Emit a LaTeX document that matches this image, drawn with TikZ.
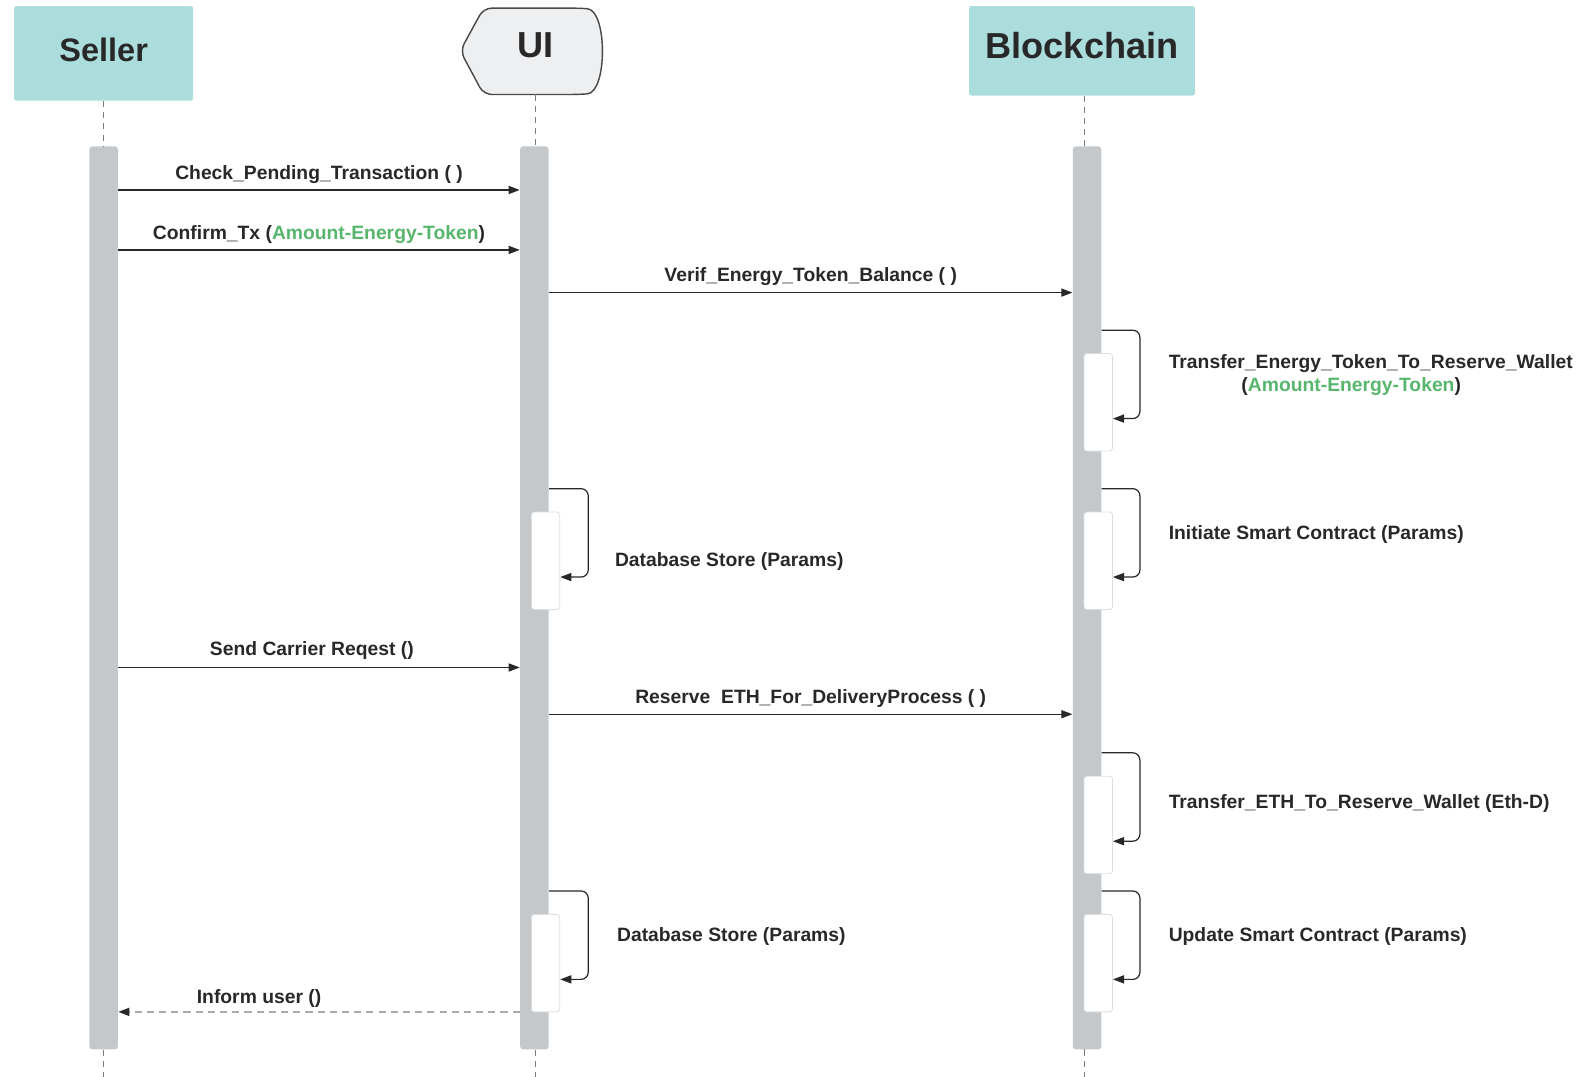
\documentclass[tikz,border=0pt]{standalone}
\usepackage{fontspec}
\setmainfont{Liberation Sans}
\usetikzlibrary{fit,arrows.meta,calc}
\definecolor{headteal}{RGB}{172,221,221}
\definecolor{barGray}{RGB}{197,200,203}
\definecolor{uiFill}{RGB}{238,239,241}
\definecolor{ink}{RGB}{40,40,40}
\definecolor{tokgreen}{RGB}{88,182,108}
\definecolor{lifegray}{RGB}{125,125,125}
\definecolor{replygray}{RGB}{170,170,170}

\begin{document}
\begin{tikzpicture}[x=0.5pt,y=-0.5pt,
  head/.style={fill=headteal, draw=none, rounded corners=1pt, inner sep=0pt},
  lifebar/.style={fill=barGray, draw=none, rounded corners=1.5pt, inner sep=0pt},
  actbox/.style={fill=white, draw=barGray!60, line width=0.4pt, rounded corners=1.5pt, inner sep=0pt},
  lifeline/.style={draw=lifegray, dash pattern=on 3pt off 2.5pt, line width=0.5pt},
  msg/.style={draw=ink, line width=0.6pt, -{Triangle[length=5.5pt,width=4pt]}},
  reply/.style={draw=replygray, dash pattern=on 3.5pt off 2.5pt, line width=0.7pt,
    -{Triangle[length=5.5pt,width=4pt,color=ink]}},
  selfmsg/.style={msg, rounded corners=3.5pt},
  lbl/.style={font=\bfseries\fontsize{9.5}{11}\selectfont, text=ink, inner sep=0pt},
  title/.style={font=\bfseries\fontsize{16}{18}\selectfont, text=ink, inner sep=0pt},
  bigtitle/.style={font=\bfseries\fontsize{17.8}{20}\selectfont, text=ink, inner sep=0pt}
]
\useasboundingbox (0,0) rectangle (1568,1060);

% participants
\node[head, fit={(14,6) (190,99)}] (sellerbox) {};
\node[title] (seller) at (102,49) {Seller};

\draw[fill=uiFill, draw=ink!85, line width=0.7pt, rounded corners=4pt]
  (476,8) -- (570,8) .. controls (598,10) and (598,91) .. (570,93) -- (476,93) -- (453,50) -- cycle;
\coordinate (uibottom) at (527,93);
\node[bigtitle] (ui) at (527,45) {UI};

\node[head, fit={(954,6) (1176,94)}] (chainbox) {};
\node[bigtitle] (chain) at (1065,45) {Blockchain};

% lifeline bars
\node[lifebar, fit={(88,144) (116,1033)}] (sbar) {};
\node[lifebar, fit={(512,144) (540,1033)}] (ubar) {};
\node[lifebar, fit={(1056,144) (1084,1033)}] (cbar) {};

% dashed lifelines
\coordinate (send) at (102,1060);
\coordinate (uend) at (527,1060);
\coordinate (ctop) at (1067,94);
\coordinate (cmid1) at (1067,144);
\coordinate (cmid2) at (1067,1033);
\coordinate (cend) at (1067,1060);
\draw[lifeline] (sellerbox.south) -- (sbar.north);
\draw[lifeline] (uibottom) -- (uibottom |- ubar.north);
\draw[lifeline] (ctop) -- (cmid1);
\draw[lifeline] (sbar.south) -- (send);
\draw[lifeline] (uend |- ubar.south) -- (uend);
\draw[lifeline] (cmid2) -- (cend);

% activation boxes
\node[actbox, fit={(1067,348) (1095,444)}] (act1) {};
\node[actbox, fit={(523,504) (551,600)}] (act2) {};
\node[actbox, fit={(1067,504) (1095,600)}] (act3) {};
\node[actbox, fit={(1067,764) (1095,860)}] (act4) {};
\node[actbox, fit={(523,900) (551,996)}] (act5) {};
\node[actbox, fit={(1067,900) (1095,996)}] (act6) {};

% messages
\draw[msg] (sbar.east |- 0,187) -- (ubar.west |- 0,187);
\node[lbl] (m1) at (314,172) {Check\_Pending\_Transaction ( )};

\draw[msg] (sbar.east |- 0,246) -- (ubar.west |- 0,246);
\node[lbl] (m2) at (314,231) {Confirm\_Tx (\textcolor{tokgreen}{Amount-Energy-Token})};

\draw[msg] (ubar.east |- 0,288) -- (cbar.west |- 0,288);
\node[lbl] (m3) at (798,272) {Verif\_Energy\_Token\_Balance ( )};

\draw[selfmsg] (cbar.east |- 0,325) -- (1122,325) -- (1122,412) -- (act1.east |- 0,412);
\node[lbl, anchor=west] (m4) at (1150,358) {Transfer\_Energy\_Token\_To\_Reserve\_Wallet};
\node[lbl] (m4b) at (1330,380) {(\textcolor{tokgreen}{Amount-Energy-Token})};

\draw[selfmsg] (ubar.east |- 0,481) -- (579,481) -- (579,568) -- (act2.east |- 0,568);
\node[lbl, anchor=west] (m5) at (605,553) {Database Store (Params)};

\draw[selfmsg] (cbar.east |- 0,481) -- (1122,481) -- (1122,568) -- (act3.east |- 0,568);
\node[lbl, anchor=west] (m6) at (1150,526) {Initiate Smart Contract (Params)};

\draw[msg] (sbar.east |- 0,657) -- (ubar.west |- 0,657);
\node[lbl] (m7) at (307,640) {Send Carrier Reqest ()};

\draw[msg] (ubar.east |- 0,703) -- (cbar.west |- 0,703);
\node[lbl] (m8) at (798,688) {Reserve\ \ ETH\_For\_DeliveryProcess ( )};

\draw[selfmsg] (cbar.east |- 0,741) -- (1122,741) -- (1122,828) -- (act4.east |- 0,828);
\node[lbl, anchor=west] (m9) at (1150,791) {Transfer\_ETH\_To\_Reserve\_Wallet (Eth-D)};

\draw[selfmsg] (ubar.east |- 0,877) -- (579,877) -- (579,964) -- (act5.east |- 0,964);
\node[lbl, anchor=west] (m10) at (607,922) {Database Store (Params)};

\draw[selfmsg] (cbar.east |- 0,877) -- (1122,877) -- (1122,964) -- (act6.east |- 0,964);
\node[lbl, anchor=west] (m11) at (1150,922) {Update Smart Contract (Params)};

\draw[reply] (ubar.west |- 0,996) -- (sbar.east |- 0,996);
\node[lbl] (m12) at (255,983) {Inform user ()};

\end{tikzpicture}
\end{document}
